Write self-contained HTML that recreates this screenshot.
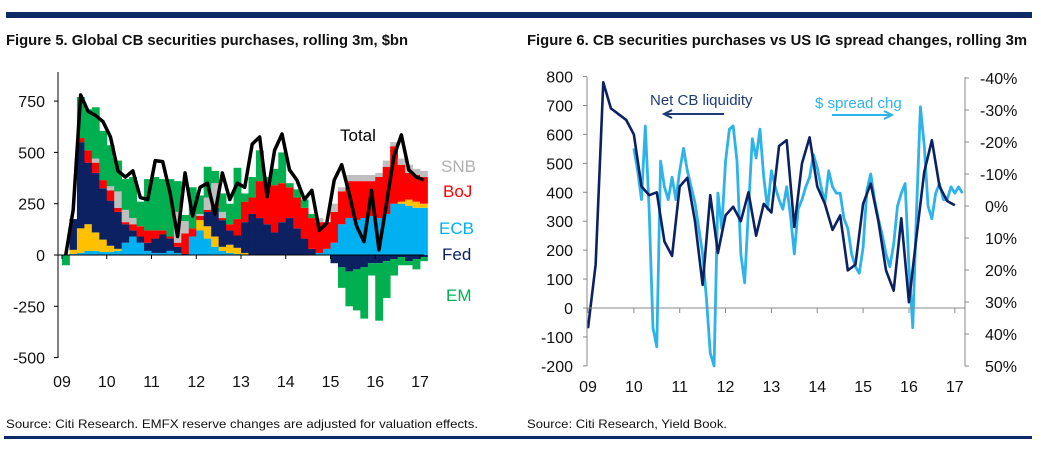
<!DOCTYPE html>
<html><head><meta charset="utf-8"><style>
html,body{margin:0;padding:0;background:#fff;}
svg{display:block;font-family:"Liberation Sans",Arial,sans-serif;}
</style></head><body>
<svg id="s" width="1041" height="451" viewBox="0 0 1041 451">
<rect x="6" y="12" width="1026" height="6" fill="#0b2a66"/>
<text x="6" y="45" font-size="15" font-weight="bold" fill="#111" textLength="402" lengthAdjust="spacingAndGlyphs">Figure 5. Global CB securities purchases, rolling 3m, $bn</text>
<text x="527" y="45" font-size="15" font-weight="bold" fill="#111" textLength="500" lengthAdjust="spacingAndGlyphs">Figure 6. CB securities purchases vs US IG spread changes, rolling 3m</text>
<text x="6" y="428" font-size="12" fill="#111" textLength="472" lengthAdjust="spacingAndGlyphs">Source: Citi Research. EMFX reserve changes are adjusted for valuation effects.</text>
<text x="527" y="428" font-size="12" fill="#111" textLength="200" lengthAdjust="spacingAndGlyphs">Source: Citi Research, Yield Book.</text>
<rect x="4" y="436" width="1028" height="3" fill="#0b2a66"/>
<g id="left"></g>
<g id="right"></g>
</svg>
<script>
// ---- Figure 5 data (bi-monthly from Jan 2009) ----
const years = ["09","10","11","12","13","14","15","16","17"];
const leftTicks = [750,500,250,0,-250,-500];
const ecb   = [0,5,10,20,20,15, 15,20,60,90,60,20, 10,10,20,10,0,90, 120,80,40,20,10,5, 0,0,0,0,0,0, 0,0,0,0,10,30, 60,150,180,170,180,190, 180,200,250,250,240,230, 230];
const other = [0,20,120,130,90,60, 30,10,0,0,0,0, 0,0,0,0,0,0, 50,60,50,20,40,30, 10,0,0,0,0,0, 0,0,0,0,0,0, 0,0,0,0,0,0, 0,0,0,10,30,30, 20];
const fed   = [0,150,420,300,290,250, 220,180,90,30,30,40, 70,90,60,30,5,0, 0,70,140,130,70,60, 150,200,180,150,110,160, 180,130,80,30,0,0, -40,-60,-80,-70,-60,-40, -40,-30,-20,-10,-30,-20, -10];
const boj   = [0,0,20,60,50,40, 50,20,10,30,50,60, 40,20,10,20,100,40, 20,10,20,10,30,80, 100,80,180,200,230,190, 150,150,150,150,150,130, 150,160,180,190,180,170, 200,230,280,180,130,130, 130];
const snb   = [0,0,0,0,20,0, 20,80,60,30,0,0, 0,0,0,150,60,0, 10,60,100,30,0,0, 0,0,0,0,0,0, 0,0,0,0,20,0, 40,20,30,30,30,30, 20,30,20,30,40,30, 30];
const em    = [-50,0,200,200,250,240, 200,150,150,200,120,250, 260,250,280,150,30,200, 90,150,60,90,100,250, 40,100,150,30,80,150, 20,40,40,20,0,0, 0,-100,-170,-200,-250,-60, -280,-180,-80,-40,-20,-50, -20];
const total = [0,220,780,700,680,650, 575,410,380,410,280,270, 460,455,300,90,400,190, 330,350,200,400,270,350, 330,540,575,285,510,590, 415,365,270,315,120,155, 365,440,300,140,65,315, 25,250,480,585,415,380, 365];
// ---- Figure 6 data ----
const rightLeftTicks = [800,700,600,500,400,300,200,100,0,-100,-200];
const rightPctTicks = [-40,-30,-20,-10,0,10,20,30,40,50];
const netLiquidity = [-70,150,780,690,670,650, 600,420,390,400,230,180, 420,450,300,80,390,190, 320,350,300,400,250,360, 330,560,580,280,500,590, 420,360,270,320,130,150, 360,430,300,130,60,310, 20,250,470,580,420,370, 355];
const spreadChg = [-18,-11,-2,-25,1,38,44,-14,-6,-2,-9,-2, -11,-18,-11,-6,-1,7,15,29,46,50,-4,7, -14,-24,-25,-14,15,24,1,-21,-15,-24,-9,1, -11,-6,-2,1,-6,3,15,1,-2,-6,-9,-16, -12,-6,-1,-11,-6,-4,-4,4,7,15,19,21, 13,-5,-10,-2,4,9,15,19,12,0,-4,-7, 19,38,1,-31,-19,0,4,-4,-7,-2,-2,-6, -4,-6,-4];

const NS="http://www.w3.org/2000/svg";
function mk(parent, tag, attrs){const e=document.createElementNS(NS,tag);for(const k in attrs)e.setAttribute(k,attrs[k]);parent.appendChild(e);return e;}

// ===== Left chart =====
const L=document.getElementById('left');
const lx=t=>62+(t-2009)*44.75;
const ly=v=>255-v*(51.3/250);
const step=1/6, bw=44.75*step;
const layers=[[ecb,'#00b0f0','ecb'],[other,'#ffc000','other'],[fed,'#0b2161','fed'],[boj,'#ff0000','boj'],[snb,'#bfbfbf','snb'],[em,'#00b050','em']];
for(let i=0;i<total.length;i++){
  let pos=0,neg=0;
  const t=2009+i*step;
  for(const [arr,col,nm] of layers){
    const v=arr[i]; if(!v) continue;
    let y0,y1;
    if(v>0){y0=pos;y1=pos+v;pos=y1;}else{y0=neg;y1=neg+v;neg=y1;}
    const r=mk(L,'rect',{x:lx(t).toFixed(2),y:Math.min(ly(y0),ly(y1)).toFixed(2),width:(bw+0.4).toFixed(2),height:Math.abs(ly(y0)-ly(y1)).toFixed(2),fill:col});
    
    
  }
}
let e=mk(L,'line',{x1:58,y1:72,x2:58,y2:358,stroke:'#000','stroke-width':1});


e=mk(L,'line',{x1:58,y1:255,x2:424,y2:255,stroke:'#000','stroke-width':1});


leftTicks.forEach(v=>{
  const t1=mk(L,'line',{x1:54,y1:ly(v),x2:58,y2:ly(v),stroke:'#000'});
  
  
  const tx=mk(L,'text',{x:45,y:ly(v)+6,'font-size':16,'text-anchor':'end',fill:'#111'});
  tx.textContent=v;
  
  
});
years.forEach((yr,i)=>{
  const x=62+i*44.75;
  const tk=mk(L,'line',{x1:x,y1:255,x2:x,y2:259,stroke:'#000'});
  
  
  const tx=mk(L,'text',{x:x,y:387,'font-size':16,'text-anchor':'middle',fill:'#111'});
  tx.textContent=yr;
  
  
});
let pts=total.map((v,i)=>lx(2009+i*step+step/2).toFixed(2)+','+ly(v).toFixed(2)).join(' ');
e=mk(L,'polyline',{points:pts,fill:'none',stroke:'#000','stroke-width':3.5,'stroke-linejoin':'round'});


[['Total',340,141,'#000'],['SNB',441,172,'#b0b0b0'],['BoJ',443,197,'#ff0000'],['ECB',439,234,'#00b0f0'],['Fed',442,260,'#0b2161'],['EM',446,301,'#00b050']].forEach(([s,x,y,c])=>{
  const tx=mk(L,'text',{x:x,y:y,'font-size':17,fill:c});
  tx.textContent=s;
  
  
});

// ===== Right chart =====
const R=document.getElementById('right');
const rx=t=>588+(t-2009)*45.85;
const ryL=v=>308-v*0.2893;
const ryR=p=>206+p*3.2;
let sp=spreadChg.map((v,i)=>rx(2010+i/12).toFixed(2)+','+ryR(v).toFixed(2)).join(' ');
e=mk(R,'polyline',{points:sp,fill:'none',stroke:'#2db3ea','stroke-width':2.8,'stroke-linejoin':'round'});


let nl=netLiquidity.map((v,i)=>rx(2009+i*step).toFixed(2)+','+ryL(v).toFixed(2)).join(' ');
e=mk(R,'polyline',{points:nl,fill:'none',stroke:'#0b2161','stroke-width':2.6,'stroke-linejoin':'round'});


e=mk(R,'line',{x1:587,y1:77,x2:587,y2:366,stroke:'#888'});


e=mk(R,'line',{x1:965,y1:77,x2:965,y2:366,stroke:'#888'});


e=mk(R,'line',{x1:587,y1:308,x2:965,y2:308,stroke:'#888'});


rightLeftTicks.forEach(v=>{
  const t1=mk(R,'line',{x1:583,y1:ryL(v),x2:587,y2:ryL(v),stroke:'#888'});
  
  
  const tx=mk(R,'text',{x:573,y:ryL(v)+6,'font-size':16,'text-anchor':'end',fill:'#111'});
  tx.textContent=v;
  
  
});
rightPctTicks.forEach(p=>{
  const y=ryR(p);
  const t1=mk(R,'line',{x1:965,y1:y,x2:969,y2:y,stroke:'#888'});
  
  
  const tx=mk(R,'text',{x:p<0?980:985,y:y+6,'font-size':16,fill:'#111'});
  tx.textContent=p+'%';
  
  
});
years.forEach((yr,i)=>{
  const x=588+i*45.85;
  const tk=mk(R,'line',{x1:x,y1:308,x2:x,y2:313,stroke:'#888'});
  
  
  const tx=mk(R,'text',{x:x,y:392,'font-size':16,'text-anchor':'middle',fill:'#111'});
  tx.textContent=yr;
  
  
});
e=mk(R,'text',{x:650,y:105,'font-size':15,fill:'#1f3a7a'});
e.textContent='Net CB liquidity';


e=mk(R,'path',{d:'M724 114 L666 114 M672 110 L664 114 L672 118',stroke:'#1f3a7a','stroke-width':2,fill:'none'});


e=mk(R,'text',{x:815,y:108,'font-size':15,fill:'#2db3ea'});
e.textContent='$ spread chg';


e=mk(R,'path',{d:'M832 115 L890 115 M884 111 L892 115 L884 119',stroke:'#2db3ea','stroke-width':2,fill:'none'});


</script>
</body></html>
